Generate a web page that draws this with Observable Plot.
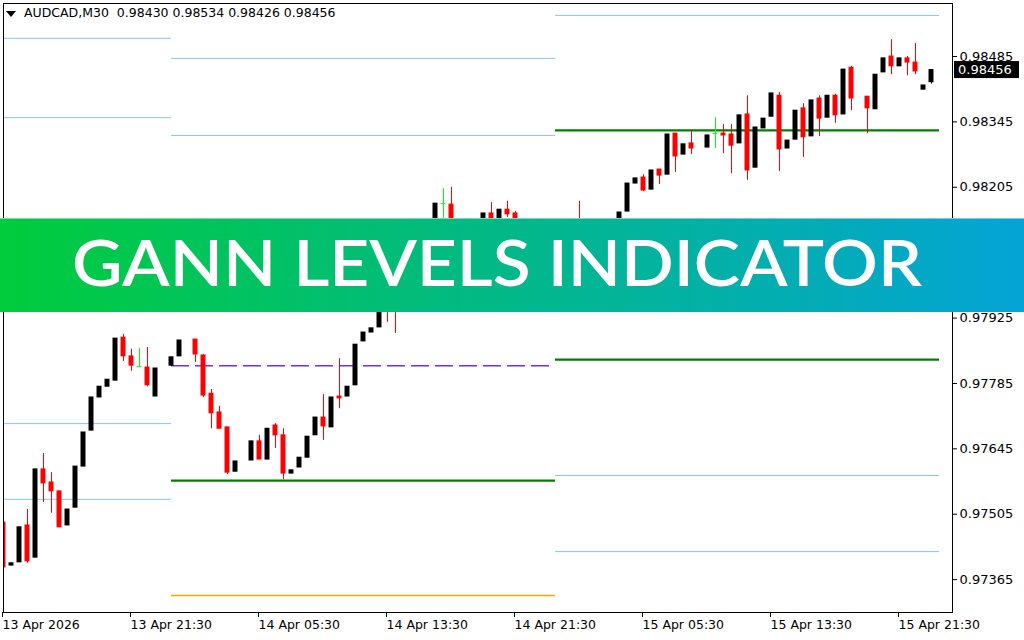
<!DOCTYPE html>
<html><head><meta charset="utf-8">
<script src="https://cdn.jsdelivr.net/npm/d3@7"></script>
<script src="https://cdn.jsdelivr.net/npm/@observablehq/plot@0.6"></script>
<style>
body{margin:0;background:#fff;}
#wrap{position:relative;width:1024px;height:640px;overflow:hidden;background:#fff;}
#wrap > svg{position:absolute;left:0;top:0;}
#header{position:absolute;left:6px;top:5px;font:12.5px "DejaVu Sans";color:#000;white-space:pre;line-height:16px;}
#banner{position:absolute;left:0;top:218px;width:1024px;height:94px;background:linear-gradient(90deg,#00cc3c,#04a4d6);border-top:1px solid rgba(255,255,255,0.45);box-sizing:border-box;}
#banner svg{position:absolute;left:0;top:0;}
</style></head>
<body><div id="wrap"></div>
<script>
// ---------- data ----------
const symbolLabel = "AUDCAD,M30";
const headerValues = ["0.98430", "0.98534", "0.98426", "0.98456"];
const bannerTitle = "GANN LEVELS INDICATOR";
const lastPrice = 0.98456;

const barIndex = [0,1,2,3,4,5,6,7,8,9,10,11,12,13,14,15,16,17,18,19,21,22,24,25,26,27,28,29,31,32,33,34,35,36,37,38,39,40,41,42,43,44,45,46,47,48,49,54,55,56,60,61,62,63,64,72,77,78,79,80,81,82,83,84,85,86,88,89,90,91,92,93,94,95,96,97,98,99,100,101,102,103,104,105,106,108,109,110,111,112,113,114,115,116];
const opens  = [0.97487,0.97395,0.97402,0.97481,0.97412,0.97601,0.97573,0.97554,0.97481,0.97519,0.97607,0.97684,0.97755,0.97778,0.97791,0.97883,0.97843,0.97821,0.97819,0.97757,0.97823,0.97843,0.97879,0.97845,0.97763,0.97723,0.97691,0.97596,0.97620,0.97661,0.97622,0.97695,0.97674,0.97592,0.97605,0.97626,0.97674,0.97712,0.97691,0.97757,0.97757,0.97781,0.97875,0.97894,0.97905,0.97984,0.98001,0.98102,0.98170,0.98168,0.98112,0.98149,0.98123,0.98157,0.98149,0.98123,0.98102,0.98153,0.98213,0.98226,0.98200,0.98243,0.98232,0.98320,0.98275,0.98299,0.98290,0.98320,0.98320,0.98318,0.98299,0.98361,0.98247,0.98331,0.98356,0.98401,0.98288,0.98307,0.98374,0.98314,0.98395,0.98354,0.98401,0.98361,0.98461,0.98399,0.98372,0.98451,0.98485,0.98464,0.98481,0.98472,0.98414,0.98430];
const highs  = [0.97515,0.97400,0.97477,0.97515,0.97601,0.97635,0.97594,0.97554,0.97515,0.97607,0.97680,0.97755,0.97778,0.97793,0.97881,0.97890,0.97858,0.97860,0.97862,0.97817,0.97841,0.97877,0.97879,0.97847,0.97772,0.97736,0.97691,0.97618,0.97661,0.97674,0.97688,0.97699,0.97688,0.97599,0.97626,0.97671,0.97712,0.97761,0.97755,0.97838,0.97778,0.97868,0.97894,0.97903,0.97952,0.97995,0.98016,0.98170,0.98202,0.98205,0.98149,0.98172,0.98157,0.98175,0.98153,0.98175,0.98151,0.98213,0.98224,0.98232,0.98241,0.98243,0.98318,0.98320,0.98297,0.98327,0.98316,0.98354,0.98339,0.98339,0.98359,0.98401,0.98333,0.98352,0.98406,0.98408,0.98305,0.98369,0.98384,0.98391,0.98401,0.98401,0.98404,0.98457,0.98464,0.98399,0.98446,0.98481,0.98521,0.98481,0.98485,0.98513,0.98423,0.98456];
const lows   = [0.97385,0.97395,0.97402,0.97400,0.97412,0.97530,0.97507,0.97477,0.97481,0.97519,0.97607,0.97684,0.97755,0.97778,0.97791,0.97832,0.97811,0.97819,0.97778,0.97757,0.97823,0.97843,0.97830,0.97755,0.97688,0.97688,0.97590,0.97596,0.97620,0.97622,0.97622,0.97646,0.97579,0.97592,0.97605,0.97626,0.97674,0.97663,0.97691,0.97731,0.97757,0.97781,0.97875,0.97894,0.97905,0.97916,0.97892,0.98091,0.98123,0.98091,0.98108,0.98108,0.98119,0.98140,0.98091,0.98059,0.98095,0.98153,0.98213,0.98196,0.98200,0.98211,0.98232,0.98237,0.98275,0.98275,0.98290,0.98288,0.98277,0.98234,0.98299,0.98220,0.98247,0.98331,0.98356,0.98239,0.98288,0.98307,0.98269,0.98314,0.98314,0.98354,0.98342,0.98361,0.98369,0.98320,0.98372,0.98451,0.98446,0.98464,0.98444,0.98446,0.98414,0.98426];
const closes = [0.97391,0.97400,0.97477,0.97404,0.97601,0.97571,0.97554,0.97477,0.97515,0.97607,0.97680,0.97755,0.97778,0.97793,0.97881,0.97843,0.97823,0.97821,0.97781,0.97817,0.97841,0.97877,0.97847,0.97759,0.97721,0.97688,0.97594,0.97618,0.97661,0.97622,0.97688,0.97674,0.97592,0.97599,0.97626,0.97671,0.97712,0.97693,0.97755,0.97753,0.97778,0.97868,0.97894,0.97903,0.97952,0.97952,0.97963,0.98170,0.98170,0.98102,0.98149,0.98117,0.98157,0.98147,0.98102,0.98070,0.98151,0.98213,0.98224,0.98198,0.98241,0.98230,0.98318,0.98271,0.98297,0.98288,0.98316,0.98320,0.98316,0.98294,0.98359,0.98241,0.98333,0.98352,0.98406,0.98286,0.98305,0.98369,0.98312,0.98391,0.98352,0.98401,0.98359,0.98457,0.98395,0.98374,0.98446,0.98481,0.98464,0.98481,0.98472,0.98453,0.98423,0.98456];

const yTicks = [0.97365,0.97505,0.97645,0.97785,0.97925,0.98065,0.98205,0.98345,0.98485];
const xTickIndex = [0,16,32,48,64,80,96,112];
const xTickLabels = ["13 Apr 2026","13 Apr 21:30","14 Apr 05:30","14 Apr 13:30","14 Apr 21:30","15 Apr 05:30","15 Apr 13:30","15 Apr 21:30"];

// Gann level segments
const levelStart = [0,0,0,0, 21,21,21,21,21, 69,69,69,69,69];
const levelEnd   = [21,21,21,21, 69,69,69,69,69, 117,117,117,117,117];
const levelPrice = [0.98524,0.98354,0.97699,0.97537, 0.98481,0.98316,0.97823,0.97577,0.97331, 0.98573,0.98327,0.97836,0.97588,0.97425];
const levelKind  = ["sky","sky","sky","sky", "sky","sky","purple","green","orange", "sky","green","green","sky","sky"];

// ---------- build ----------
const candles = barIndex.map((k,i)=>({k, o:opens[i], h:highs[i], l:lows[i], c:closes[i]}));
const candleColor = d => d.c > d.o ? "#000000" : d.c < d.o ? "#ff0000" : "#00ff00";
const levels = levelPrice.map((p,i)=>({p, x1:levelStart[i], x2:levelEnd[i], kind:levelKind[i]}));
const byKind = k => levels.filter(d=>d.kind===k);

const chart = Plot.plot({
  width:1024, height:640,
  marginLeft:3, marginRight:72, marginTop:3, marginBottom:28,
  style:{fontFamily:'"DejaVu Sans", Verdana, sans-serif', fontSize:"12.5px", background:"#fff", color:"#000"},
  x:{domain:[0,118.625], axis:null},
  y:{domain:[0.972946,0.985985], axis:null},
  marks:[
    Plot.ruleY(byKind("sky"), {y:"p", x1:"x1", x2:"x2", stroke:"#80c8ec", strokeWidth:1, clip:"frame"}),
    Plot.ruleY(byKind("purple"), {y:"p", x1:"x1", x2:"x2", stroke:"#7b2fd6", strokeWidth:1.4, strokeDasharray:"18,6", clip:"frame"}),
    Plot.ruleY(byKind("green"), {y:"p", x1:"x1", x2:"x2", stroke:"#008000", strokeWidth:2.2, clip:"frame"}),
    Plot.ruleY(byKind("orange"), {y:"p", x1:"x1", x2:"x2", stroke:"#ffa500", strokeWidth:1.5, clip:"frame"}),
    Plot.ruleX(candles, {x:"k", y1:"l", y2:"h", stroke:candleColor, strokeWidth:1, clip:"frame"}),
    Plot.rect(candles.filter(d=>d.c!==d.o), {x1:d=>d.k-0.31, x2:d=>d.k+0.31, y1:"o", y2:"c", fill:candleColor, insetTop:-0.5, insetBottom:-0.5, clip:"frame"}),
    Plot.ruleY(candles.filter(d=>d.c===d.o), {y:"o", x1:d=>d.k-0.31, x2:d=>d.k+0.31, stroke:"#00ff00", strokeWidth:1, clip:"frame"}),
    Plot.frame({stroke:"#000", strokeWidth:1}),
    Plot.axisY({anchor:"right", ticks:yTicks, tickFormat:d=>d.toFixed(5), tickSize:4, tickPadding:3, fontSize:13, stroke:"#000", fill:"#000"}),
    Plot.axisX({ticks:xTickIndex, tickFormat:d=>xTickLabels[xTickIndex.indexOf(d)], textAnchor:"start", dx:-1, tickSize:5, tickPadding:3, fontSize:12.5, stroke:"#000", fill:"#000"})
  ]
});

const wrap = document.getElementById("wrap");
wrap.appendChild(chart);

// current price label on the price scale
const ys = chart.scale("y");
const py = ys.apply(lastPrice);
const svg = d3.select(chart);
const g = svg.append("g");
g.append("rect").attr("x",954).attr("y",py-8.5).attr("width",65).attr("height",17).attr("fill","#000");
g.append("text").attr("x",958).attr("y",py).attr("dy","0.36em").attr("fill","#fff").attr("text-anchor","start")
  .attr("font-family",'"DejaVu Sans", Verdana, sans-serif').attr("font-size",13).text(lastPrice.toFixed(5));

// header
const header = document.createElement("div");
header.id = "header";
header.innerHTML = '<span style="display:inline-block;width:0;height:0;border-left:5px solid transparent;border-right:5px solid transparent;border-top:6px solid #000;margin-right:8px;vertical-align:middle;"></span>' +
  symbolLabel + "  " + headerValues.join(" ");
wrap.appendChild(header);

// banner
const banner = document.createElement("div");
banner.id = "banner";
banner.innerHTML = `<svg width="1024" height="94"><text x="72" y="67" fill="#fff" text-anchor="start" font-family="Lato, 'Open Sans', sans-serif" font-weight="600" font-size="63" textLength="850" lengthAdjust="spacingAndGlyphs">${bannerTitle}</text></svg>`;
wrap.appendChild(banner);
</script>
</body></html>
